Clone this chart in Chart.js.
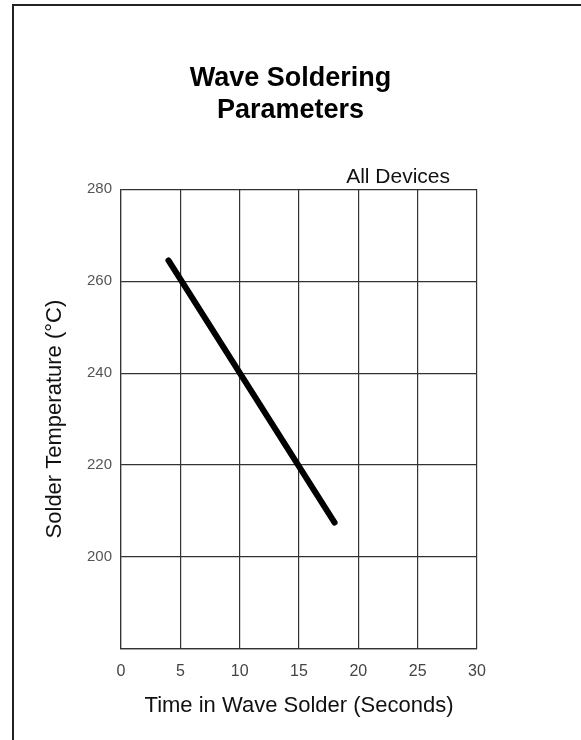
<!DOCTYPE html>
<html>
<head>
<meta charset="utf-8">
<script src="https://cdn.jsdelivr.net/npm/chart.js@4/dist/chart.umd.min.js"></script>
<style>
  html, body { margin: 0; padding: 0; background: #fff; }
  #wrap { position: relative; width: 581px; height: 740px; overflow: hidden; }
  #frame { position: absolute; left: 12px; top: 4px; width: 600px; height: 760px;
           border-left: 2px solid #222; border-top: 2px solid #222; box-sizing: border-box; }
  canvas { position: absolute; left: 0; top: 0; }
</style>
</head>
<body>
<div id="wrap">
  <div id="frame"></div>
  <canvas id="chart" width="581" height="740"></canvas>
</div>
<script>
// wave soldering curve
const timeSeconds = [4, 18];
const solderTemp = [264.5, 207.5];

const xTicks = [0, 5, 10, 15, 20, 25, 30];
const yTicks = [180, 200, 220, 240, 260, 280];

const FONT = "'Liberation Sans', Arial, sans-serif";

// small label sitting above the plot, top right
const noteLabel = {
  id: 'noteLabel',
  afterDraw(chart) {
    const { ctx, chartArea } = chart;
    ctx.save();
    ctx.font = '21px ' + FONT;
    ctx.fillStyle = '#111';
    ctx.textAlign = 'right';
    ctx.textBaseline = 'middle';
    ctx.fillText('All Devices', chartArea.right - 27, chartArea.top - 12);
    ctx.restore();
  }
};

const ctx = document.getElementById('chart').getContext('2d');
new Chart(ctx, {
  type: 'line',
  data: {
    datasets: [{
      label: 'All Devices',
      data: timeSeconds.map((t, i) => ({ x: t, y: solderTemp[i] })),
      borderColor: '#000',
      borderWidth: 6,
      borderCapStyle: 'round',
      pointRadius: 0,
      fill: false,
      tension: 0
    }]
  },
  options: {
    responsive: false,
    animation: false,
    layout: { padding: 0 },
    plugins: {
      legend: { display: false },
      tooltip: { enabled: false },
      title: {
        display: true,
        text: ['Wave Soldering', 'Parameters'],
        color: '#000',
        font: { family: FONT, size: 27, weight: 'bold', lineHeight: 1.17 },
        padding: { top: 63, bottom: 63 }
      }
    },
    scales: {
      x: {
        type: 'linear',
        min: 0,
        max: 30,
        afterBuildTicks: s => { s.ticks = xTicks.map(v => ({ value: v })); },
        afterFit: s => { s.height = 91; },
        grid: { color: '#333', lineWidth: 1.2, drawTicks: false },
        border: { color: '#333', width: 1.2 },
        ticks: { color: '#444', padding: 13, font: { family: FONT, size: 16 } },
        title: {
          display: true,
          text: 'Time in Wave Solder (Seconds)',
          color: '#111',
          font: { family: FONT, size: 22 },
          padding: { top: 0, bottom: 21 }
        }
      },
      y: {
        type: 'linear',
        position: 'left',
        min: 180,
        max: 280,
        afterBuildTicks: s => { s.ticks = yTicks.map(v => ({ value: v })); },
        afterFit: s => { s.width = 121; },
        grid: { color: '#333', lineWidth: 1.2, drawTicks: false },
        border: { color: '#333', width: 1.2 },
        ticks: {
          color: '#555',
          padding: 9,
          font: { family: FONT, size: 15 },
          callback: v => (v === 180 ? '' : v)
        },
        title: {
          display: true,
          text: 'Solder Temperature (°C)',
          color: '#111',
          font: { family: FONT, size: 22 },
          padding: { top: 42, bottom: 0 }
        }
      },
      // empty axis on the right, only reserves the white margin
      pad: {
        type: 'linear',
        position: 'right',
        display: true,
        afterFit: s => { s.width = 104; },
        grid: { display: false },
        border: { display: false },
        ticks: { display: false }
      }
    }
  },
  plugins: [noteLabel]
});
</script>
</body>
</html>
